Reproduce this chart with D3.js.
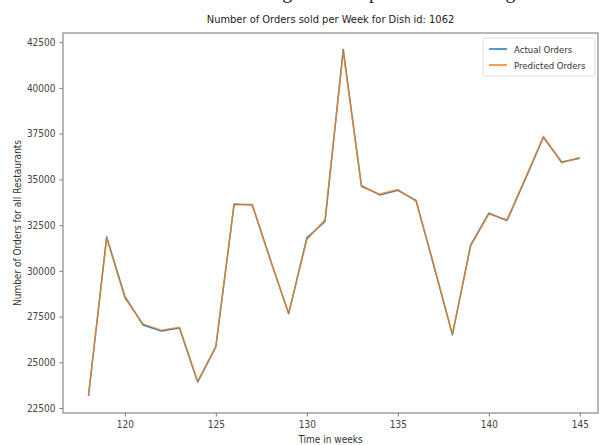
<!DOCTYPE html>
<html>
<head>
<meta charset="utf-8">
<script src="https://cdn.jsdelivr.net/npm/d3@7"></script>
<style>
  body { margin: 0; background: #fff; }
  svg { display: block; }
  svg text { font-family: "DejaVu Sans Condensed", "DejaVu Sans", sans-serif; fill: #333; }
</style>
</head>
<body>
<div id="plot"></div>
<script>
let weeks = [118, 119, 120, 121, 122, 123, 124, 125, 126, 127, 128, 129, 130, 131,
             132, 133, 134, 135, 136, 137, 138, 139, 140, 141, 142, 143, 144, 145];
let actual = [23160, 31850, 28600, 27040, 26710, 26880, 23920, 25840, 33650, 33600,
              30600, 27650, 31800, 32700, 42100, 34650, 34150, 34400, 33850, 30200,
              26500, 31400, 33150, 32750, 35000, 37300, 35950, 36150];
let predicted = [23200, 31800, 28500, 27100, 26760, 26920, 23960, 25880, 33600, 33640,
                 30550, 27700, 31700, 32800, 42000, 34600, 34200, 34450, 33800, 30250,
                 26550, 31350, 33100, 32800, 35050, 37350, 35900, 36200];
let xTicks = [120, 125, 130, 135, 140, 145];
let yTicks = [22500, 25000, 27500, 30000, 32500, 35000, 37500, 40000, 42500];
let seriesNames = ['Actual Orders', 'Predicted Orders'];
let seriesColors = ['#1f77b4', '#ff7f0e'];

let svgWidth = 599;
let svgHeight = 445;
let margin = { top: 33, right: 1, bottom: 32, left: 63 };
let width = svgWidth - margin.left - margin.right;
let height = svgHeight - margin.top - margin.bottom;

let svg = d3.select('#plot')
            .append('svg')
            .attr('width', svgWidth)
            .attr('height', svgHeight);

// caption line of the page above, only its lowest edge is inside the crop
svg.append('text')
    .attr('x', 300)
    .attr('y', -2)
    .attr('text-anchor', 'middle')
    .style('font-family', '"Liberation Serif", serif')
    .style('font-size', '20px')
    .style('fill', '#222')
    .text('Actual vs Predicted Values Using Line Graph for Forecasting Orders');

let chart = svg.append('g')
               .attr('transform', `translate(${margin.left},${margin.top})`);

let x = d3.scaleLinear()
          .domain([116.6, 146])
          .range([0, width]);

let y = d3.scaleLinear()
          .domain([22230, 43000])
          .range([height, 0]);

let xAxis = d3.axisBottom(x).tickValues(xTicks).tickSize(3.5).tickPadding(4).tickFormat(d3.format('d'));
let yAxis = d3.axisLeft(y).tickValues(yTicks).tickSize(3.5).tickPadding(4).tickFormat(d3.format('d'));

let gx = chart.append('g')
              .attr('transform', `translate(0,${height})`)
              .call(xAxis);
let gy = chart.append('g').call(yAxis);

[gx, gy].forEach(function(g){
    g.select('.domain').remove();
    g.selectAll('line').attr('stroke', '#777');
    g.selectAll('text').style('font-size', '10px').style('fill', '#444');
});

// frame
chart.append('rect')
     .attr('width', width)
     .attr('height', height)
     .attr('fill', 'none')
     .attr('stroke', '#888')
     .attr('stroke-width', 1.2);

let line = d3.line()
             .x((d, i) => x(weeks[i]))
             .y(d => y(d));

[actual, predicted].forEach(function(vals, k){
    chart.append('path')
         .datum(vals)
         .attr('fill', 'none')
         .attr('stroke', seriesColors[k])
         .attr('stroke-width', 1.5)
         .attr('stroke-linejoin', 'round')
         .attr('opacity', k == 0 ? 0.9 : 0.75)
         .attr('d', line);
});

// title and labels
svg.append('text')
    .attr('x', margin.left + width / 2)
    .attr('y', 23)
    .attr('text-anchor', 'middle')
    .style('font-size', '11px')
    .style('fill', '#222')
    .text('Number of Orders sold per Week for Dish id: 1062');

svg.append('text')
    .attr('x', margin.left + width / 2)
    .attr('y', 443)
    .attr('text-anchor', 'middle')
    .style('font-size', '10px')
    .text('Time in weeks');

svg.append('text')
    .attr('transform', `translate(21,${margin.top + height / 2}) rotate(-90)`)
    .attr('text-anchor', 'middle')
    .style('font-size', '10px')
    .text('Number of Orders for all Restaurants');

// legend
let legend = chart.append('g')
                  .attr('transform', `translate(${width - 115},5)`);
legend.append('rect')
      .attr('width', 112)
      .attr('height', 38)
      .attr('rx', 2)
      .attr('fill', '#fff')
      .attr('stroke', '#ddd');
seriesNames.forEach(function(name, i){
    legend.append('line')
          .attr('x1', 6).attr('x2', 24)
          .attr('y1', 11 + i * 16).attr('y2', 11 + i * 16)
          .attr('stroke', seriesColors[i])
          .attr('stroke-width', 1.5);
    legend.append('text')
          .attr('x', 31)
          .attr('y', 14.5 + i * 16)
          .style('font-size', '9.5px')
          .text(name);
});
</script>
</body>
</html>
